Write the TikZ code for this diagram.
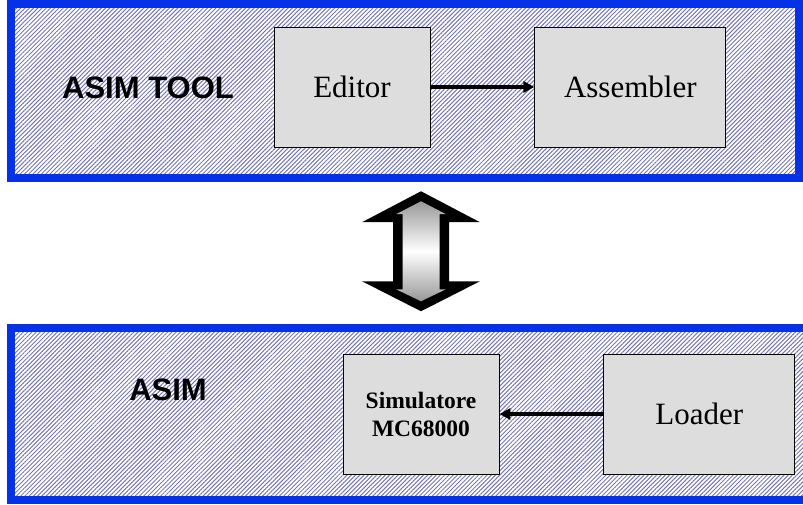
\documentclass[tikz,border=0pt]{standalone}
\usepackage{fontspec}
\setmainfont{Liberation Serif}
\newfontfamily\labelfont{Liberation Sans}
\usepackage{xcolor}
\definecolor{framecol}{RGB}{5, 50, 230}
\definecolor{hatchcol}{RGB}{118, 118, 180}
\definecolor{unitcol}{RGB}{221, 221, 221}
\usepackage{tikz}
\usetikzlibrary{positioning, patterns.meta, calc, arrows.meta}

% grey ends, white middle
\pgfdeclareverticalshading{linkshade}{100bp}{%
  color(0bp)=(black!70); color(22bp)=(black!45); color(50bp)=(white);
  color(78bp)=(black!45); color(100bp)=(black!65)}

\begin{document}
\begin{tikzpicture}[x=1pt, y=1pt, node distance=104pt,
  frame/.style={draw=framecol, line width=8pt,
    pattern={Lines[angle=45, distance=3pt, line width=1pt]},
    pattern color=hatchcol, minimum height=174pt, inner sep=0pt},
  unit/.style={draw=black, line width=0.8pt, fill=unitcol,
    minimum width=156pt, minimum height=120pt, inner sep=0pt,
    font=\fontsize{31}{37}\selectfont},
  title/.style={font=\labelfont\bfseries\fontsize{31}{37}\selectfont},
  flow/.style={line width=3.4pt, -{Triangle[length=11pt, width=11pt]}}]
  \path[use as bounding box, clip] (0,0) rectangle (803,504);

  % upper frame: the tool chain
  \node[frame, minimum width=788pt] (tool) at (405,413) {};
  \node[title] (toolname) at (148,416) {ASIM TOOL};
  \node[unit] (editor) at (352,417) {Editor};
  \node[unit, minimum width=191pt, right=of editor] (asm) {Assembler};

  % lower frame runs past the right edge
  \node[frame, minimum width=808pt, minimum height=172pt] (asim) at (415,90) {};
  \node[title] (asimname) at (168,114) {ASIM};
  \node[unit, align=center, font=\bfseries\fontsize{23.5}{28}\selectfont]
        (sim) at (421,90) {Simulatore\\MC68000};
  \node[unit, minimum width=191pt, right=of sim] (loader) {Loader};

  \draw[flow] (editor.east) -- (asm.west);
  \draw[flow] (loader.west) -- (sim.east);

  % two-way link between the frames
  \path ($(tool.south)!0.5!(asim.north)$) coordinate (gap);
  \coordinate (link) at (sim |- gap);
  \fill[black, shift={(link)}]
    (0,60) -- (59,29) -- (28,29) -- (28,-30) -- (59,-30) -- (0,-60)
    -- (-59,-30) -- (-28,-30) -- (-28,29) -- (-59,29) -- cycle;
  \shade[shading=linkshade, shift={(link)}]
    (0,50) -- (25,37) -- (18.5,37) -- (18.5,-38) -- (25,-38) -- (0,-50)
    -- (-25,-38) -- (-18.5,-38) -- (-18.5,37) -- (-25,37) -- cycle;
\end{tikzpicture}
\end{document}
